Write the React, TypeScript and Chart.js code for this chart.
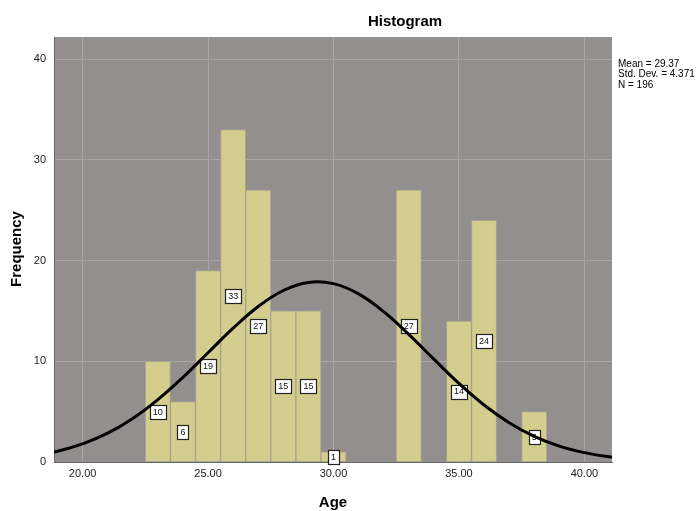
import React, { useEffect, useRef } from "react";
import { Chart, registerables } from "chart.js";

Chart.register(...registerables);

// ---- Data ----
const binCenters = [23, 24, 25, 26, 27, 28, 29, 30, 33, 35, 36, 38];
const frequencies = [10, 6, 19, 33, 27, 15, 15, 1, 27, 14, 24, 5];

// Normal curve (Mean = 29.37, SD = 4.371, N = 196)
const curveX = [18, 19, 20, 21, 22, 23, 24, 25, 26, 27, 28, 29, 30, 31, 32, 33, 34, 35, 36, 37, 38, 39, 40, 41, 42];
const curveY = [0.61, 1.07, 1.8, 2.86, 4.32, 6.19, 8.41, 10.85, 13.29, 15.44, 17.03, 17.83, 17.71, 16.69, 14.93, 12.67, 10.21, 7.8, 5.66, 3.9, 2.55, 1.58, 0.93, 0.52, 0.28];

const xMin = 18.86;
const xMax = 41.1;
const xStep = 5;
const yMax = 42.2;
const yStep = 10;

const chartTitle = "Histogram";
const xTitle = "Age";
const yTitle = "Frequency";
const statsLines = ["Mean = 29.37", "Std. Dev. = 4.371", "N = 196"];

const FONT = 'Arial, "Liberation Sans", sans-serif';

export default function App() {
  const canvasRef = useRef<HTMLCanvasElement | null>(null);

  useEffect(() => {
    const canvas = canvasRef.current;
    if (!canvas) return;

    const decorPlugin = {
      id: "decor",
      beforeDraw(chart: any) {
        const { ctx, chartArea } = chart;
        ctx.save();
        ctx.fillStyle = "#ffffff";
        ctx.fillRect(0, 0, chart.width, chart.height);
        ctx.fillStyle = "#938f8e";
        ctx.fillRect(chartArea.left, chartArea.top, chartArea.right - chartArea.left, chartArea.bottom - chartArea.top);
        ctx.restore();
      },
      afterDatasetDraw(chart: any, args: any) {
        if (args.index !== 1) return;
        const { ctx } = chart;
        const xs = chart.scales.x;
        const ys = chart.scales.y;
        ctx.save();
        ctx.font = `9px ${FONT}`;
        ctx.textAlign = "center";
        ctx.textBaseline = "middle";
        binCenters.forEach((c, i) => {
          const v = frequencies[i];
          const px = xs.getPixelForValue(c);
          const py = ys.getPixelForValue(v / 2);
          const txt = String(v);
          const w = Math.max(ctx.measureText(txt).width + 6, 10);
          const h = 14;
          ctx.fillStyle = "#ffffff";
          ctx.fillRect(Math.round(px - w / 2) + 0.5, Math.round(py - h / 2) + 0.5, Math.round(w), h);
          ctx.strokeStyle = "#222222";
          ctx.lineWidth = 1.2;
          ctx.strokeRect(Math.round(px - w / 2) + 0.5, Math.round(py - h / 2) + 0.5, Math.round(w), h);
          ctx.fillStyle = "#111111";
          ctx.fillText(txt, px, py + 0.5);
        });
        ctx.restore();
      },
      afterDraw(chart: any) {
        const { ctx, chartArea } = chart;
        ctx.save();
        ctx.fillStyle = "#000000";
        ctx.textAlign = "center";
        ctx.textBaseline = "middle";
        ctx.font = `bold 15px ${FONT}`;
        ctx.fillText(chartTitle, 405, 22);
        ctx.fillText(xTitle, (chartArea.left + chartArea.right) / 2, 503);
        ctx.save();
        ctx.translate(17, 249);
        ctx.rotate(-Math.PI / 2);
        ctx.fillText(yTitle, 0, 0);
        ctx.restore();
        ctx.textAlign = "left";
        ctx.font = `10px ${FONT}`;
        statsLines.forEach((s, i) => {
          ctx.fillText(s, chartArea.right + 6, 64 + i * 10.5);
        });
        ctx.restore();
      },
    };

    const chart = new Chart(canvas, {
      type: "bar",
      data: {
        datasets: [
          {
            type: "line",
            label: "Normal",
            data: curveX.map((x, i) => ({ x, y: curveY[i] })),
            borderColor: "#000000",
            borderWidth: 3,
            pointRadius: 0,
            tension: 0.4,
            fill: false,
            order: 1,
          } as any,
          {
            type: "bar",
            label: "Frequency",
            data: binCenters.map((x, i) => ({ x, y: frequencies[i] })),
            backgroundColor: "#d3cd8e",
            borderColor: "#a9a58f",
            borderWidth: 1,
            categoryPercentage: 1,
            barPercentage: 1,
            order: 2,
          } as any,
        ],
      },
      options: {
        responsive: false,
        animation: false,
        devicePixelRatio: 1,
        layout: { padding: { left: 0, right: 86, top: 37, bottom: 0 } },
        plugins: {
          legend: { display: false },
          tooltip: { enabled: false },
          title: { display: false },
        },
        scales: {
          x: {
            type: "linear",
            min: xMin,
            max: xMax,
            offset: false,
            grid: { color: "#aaa6a5", lineWidth: 1, drawTicks: false, offset: false },
            border: { display: true, color: "#666666", width: 1 },
            ticks: {
              stepSize: xStep,
              includeBounds: false,
              padding: 5,
              color: "#222222",
              font: { family: FONT, size: 11 },
              maxRotation: 0,
              callback: (v: any) => Number(v).toFixed(2),
            },
            afterFit: (scale: any) => {
              scale.height = 49;
            },
          },
          y: {
            type: "linear",
            min: 0,
            max: yMax,
            grid: { color: "#aaa6a5", lineWidth: 1, drawTicks: false },
            border: { display: true, color: "#666666", width: 1 },
            ticks: {
              stepSize: yStep,
              includeBounds: false,
              padding: 8,
              color: "#222222",
              font: { family: FONT, size: 11 },
            },
            afterFit: (scale: any) => {
              scale.width = 54;
            },
          },
        },
      },
      plugins: [decorPlugin],
    });

    return () => chart.destroy();
  }, []);

  return (
    <div style={{ position: "fixed", left: 0, top: 0, width: 698, height: 511, background: "#ffffff" }}>
      <canvas ref={canvasRef} width={698} height={511} style={{ width: 698, height: 511, display: "block" }} />
    </div>
  );
}
